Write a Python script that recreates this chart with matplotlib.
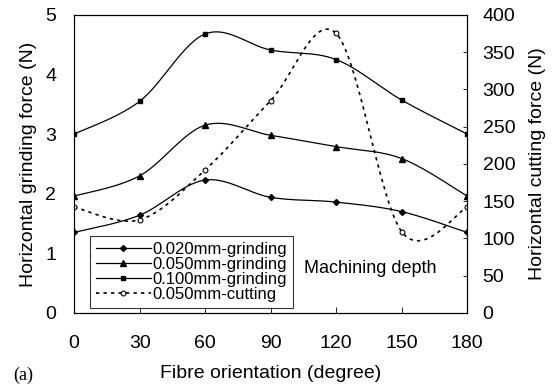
import numpy as np
import matplotlib.pyplot as plt

plt.rcParams['font.family'] = ['Liberation Sans', 'DejaVu Sans']

angle = [0, 30, 60, 90, 120, 150, 180]
grind_020 = [1.35, 1.64, 2.23, 1.94, 1.86, 1.70, 1.35]
grind_050 = [1.96, 2.30, 3.15, 2.98, 2.79, 2.59, 1.96]
grind_100 = [3.00, 3.55, 4.68, 4.41, 4.25, 3.57, 3.00]
cut_050 = [142, 125, 192, 285, 375, 109, 142]


def smooth(x, y, n=30):
    # Excel style smoothed line (cubic bezier, catmull-rom control points)
    x = np.asarray(x, float)
    y = np.asarray(y, float)
    p = np.column_stack([x, y])
    out = []
    t = np.linspace(0, 1, n)[:, None]
    for i in range(len(p) - 1):
        p0 = p[i - 1] if i > 0 else p[i]
        p3 = p[i + 2] if i + 2 < len(p) else p[i + 1]
        c1 = p[i] + (p[i + 1] - p0) / 6
        c2 = p[i + 1] - (p3 - p[i]) / 6
        seg = ((1 - t) ** 3 * p[i] + 3 * (1 - t) ** 2 * t * c1
               + 3 * (1 - t) * t ** 2 * c2 + t ** 3 * p[i + 1])
        out.append(seg)
    s = np.vstack(out)
    return s[:, 0], s[:, 1]


fig = plt.figure(figsize=(5.53, 3.91), dpi=100)
ax = fig.add_axes([0.134, 0.1995, 0.711, 0.7625])
ax2 = ax.twinx()

for ys, mk, ms, lab in [(grind_020, 'D', 3, '0.020mm-grinding'),
                        (grind_050, '^', 4.5, '0.050mm-grinding'),
                        (grind_100, 's', 3.5, '0.100mm-grinding')]:
    sx, sy = smooth(angle, ys)
    ax.plot(sx, sy, color='black', lw=0.9)
    ax.plot(angle, ys, ls='none', marker=mk, ms=ms, color='black')
    ax.plot([], [], color='black', lw=0.9, marker=mk, ms=ms, label=lab)

sx, sy = smooth(angle, cut_050)
ax2.plot(sx, sy, color='black', lw=1.2, ls=(0, (2, 2.5)))
ax2.plot(angle, cut_050, ls='none', marker='o', ms=3.5, mfc='white',
         mec='black', mew=0.8)
ax.plot([], [], color='black', lw=1.2, ls=(0, (2, 2.5)), marker='o', ms=3.5,
        mfc='white', mec='black', mew=0.8, label='0.050mm-cutting')

ax.set_xlim(0, 180)
ax.set_ylim(0, 5)
ax2.set_ylim(0, 400)
ax.set_xticks(angle)
ax.set_yticks(range(6))
ax2.set_yticks(range(0, 401, 50))
ax.tick_params(axis='x', direction='in', labelsize=14, length=4, width=0.6,
               pad=16)
ax.tick_params(axis='y', direction='in', labelsize=14, length=0, pad=13)
ax2.tick_params(direction='in', labelsize=14, length=3, width=0.6, pad=11)
ax.set_xlabel('Fibre orientation (degree)', fontsize=14, labelpad=9)
ax.set_ylabel('Horizontal grinding force (N)', fontsize=14, labelpad=6)
ax2.set_ylabel('Horizontal cutting force (N)', fontsize=14, labelpad=10)

leg = ax.legend(loc='lower left', bbox_to_anchor=(0.04, 0.017), fontsize=12,
                frameon=True, fancybox=False, edgecolor='black',
                borderpad=0.35, labelspacing=0.0, handlelength=3.3,
                handletextpad=0.1, borderaxespad=0)
leg.get_frame().set_linewidth(0.8)

ax.text(0.752, 0.15, 'Machining depth', transform=ax.transAxes, fontsize=13,
        ha='center', va='center')
fig.text(0.024, 0.04, '(a)', fontsize=13, family='Liberation Serif',
         ha='left', va='center')

fig.savefig('out.png', dpi=100)
